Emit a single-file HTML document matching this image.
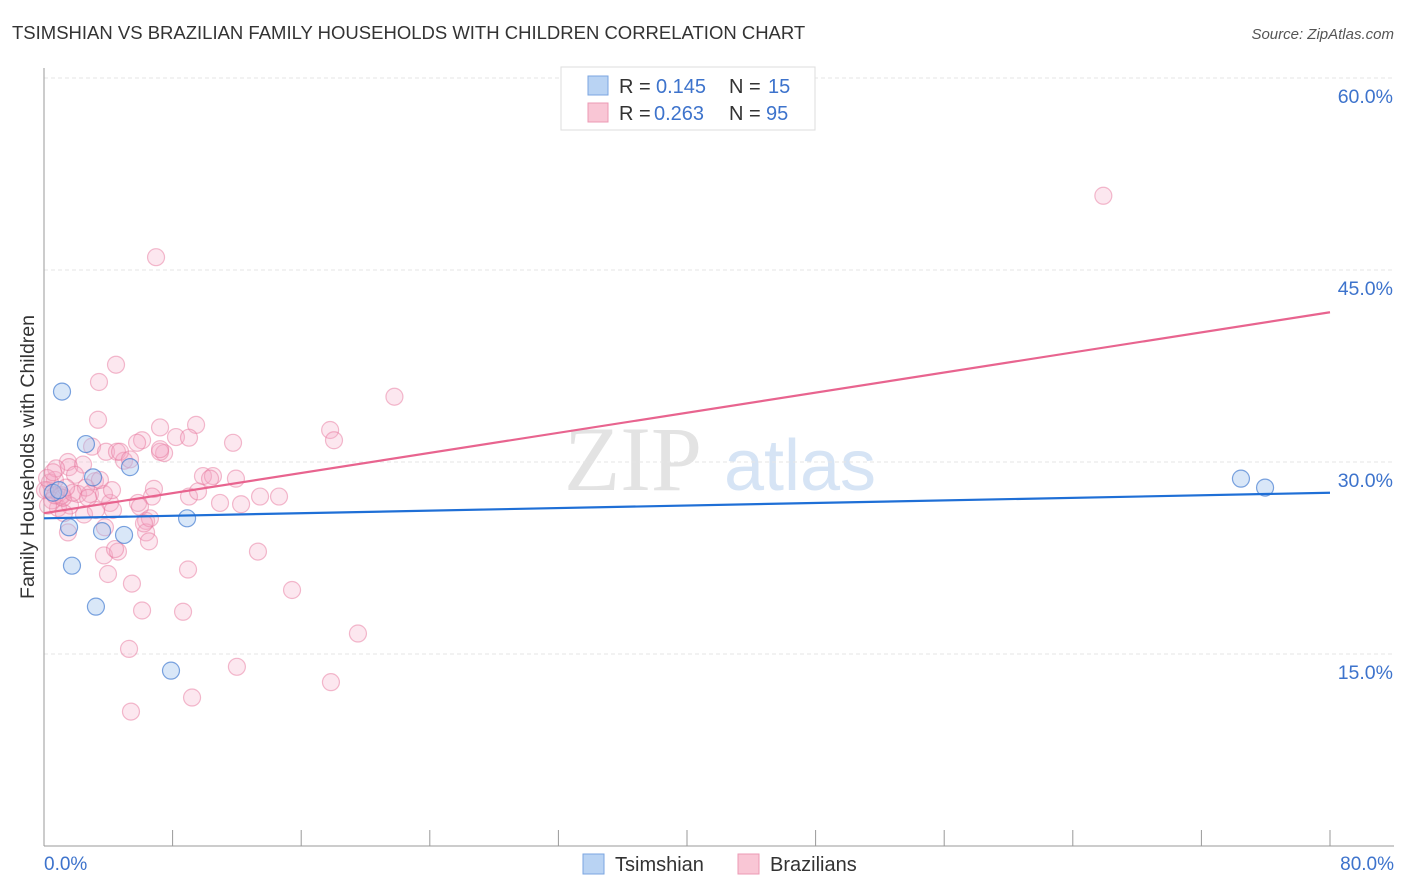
<!DOCTYPE html>
<html><head><meta charset="utf-8"><style>
body{margin:0;background:#fff;font-family:"Liberation Sans",sans-serif;}
svg{display:block}
</style></head><body>
<svg id="chart" width="1406" height="892" xmlns="http://www.w3.org/2000/svg">
<text x="12" y="39" font-size="18.5" fill="#333" font-family="Liberation Sans, sans-serif">TSIMSHIAN VS BRAZILIAN FAMILY HOUSEHOLDS WITH CHILDREN CORRELATION CHART</text>
<text x="1394" y="39" font-size="15" fill="#555" text-anchor="end" font-style="italic">Source: ZipAtlas.com</text>
<g>
<text x="633" y="490" font-size="92" fill="#e3e3e3" text-anchor="middle" font-family="Liberation Serif, serif">ZIP</text>
<text x="800" y="490" font-size="72" fill="#d6e4f5" text-anchor="middle">atlas</text>
</g>
<g id="grid"></g>
<g id="axes"></g>
<g id="marks"></g>
<text transform="translate(34,457) rotate(-90)" font-size="19.5" fill="#333" text-anchor="middle">Family Households with Children</text>
<g>
<rect x="561" y="67" width="254" height="63" fill="#fff" stroke="#ddd"/>
<rect x="588" y="76" width="20" height="19" fill="#b9d3f3" stroke="#7ba6e0"/>
<rect x="588" y="103" width="20" height="19" fill="#f9c6d5" stroke="#ec9ab4"/>
<text x="619" y="93" font-size="20" fill="#333">R =</text>
<text x="656" y="93" font-size="20" fill="#3d73cc">0.145</text>
<text x="729" y="93" font-size="20" fill="#333">N =</text>
<text x="768" y="93" font-size="20" fill="#3d73cc">15</text>
<text x="619" y="120" font-size="20" fill="#333">R =</text>
<text x="654" y="120" font-size="20" fill="#3d73cc">0.263</text>
<text x="729" y="120" font-size="20" fill="#333">N =</text>
<text x="766" y="120" font-size="20" fill="#3d73cc">95</text>
</g>
<g>
<rect x="583" y="854" width="21" height="20" fill="#b9d3f3" stroke="#7ba6e0"/>
<text x="615" y="871" font-size="20" fill="#333">Tsimshian</text>
<rect x="738" y="854" width="21" height="20" fill="#f9c6d5" stroke="#ec9ab4"/>
<text x="770" y="871" font-size="20" fill="#333">Brazilians</text>
</g>
</svg>
<script>
const yTicks=[15,30,45,60];
const yTickLabels=["15.0%","30.0%","45.0%","60.0%"];
const xEndLabels=["0.0%","80.0%"];
const tsimX=[1.12,2.61,5.35,3.05,1.56,3.61,4.98,8.90,1.74,3.23,7.90,74.46,75.96,0.56,0.93];
const tsimY=[35.5,31.4,29.6,28.8,24.9,24.6,24.3,25.6,21.9,18.7,13.7,28.7,28.0,27.6,27.8];
const brazX=[65.9,6.97,4.48,3.42,21.8,3.36,9.46,17.8,8.21,11.76,6.10,7.22,18.04,9.02,2.99,3.86,4.54,7.47,7.22,1.49,4.98,1.56,2.43,9.89,10.51,10.33,11.94,6.84,3.17,6.72,9.02,13.44,14.62,5.85,4.11,4.29,10.95,12.26,0.68,0.25,1.0,2.12,2.86,3.73,0.87,1.62,2.49,3.79,6.35,1.49,6.35,6.53,3.73,4.60,4.42,13.31,5.47,3.98,8.96,6.10,8.65,15.43,19.53,12.0,5.29,9.21,5.41,17.85,0.37,0.06,0.5,1.12,1.93,2.61,3.48,1.24,3.23,5.97,1.18,0.75,4.73,5.35,5.79,9.58,0.25,0.68,1.80,1.37,4.23,2.74,0.19,0.56,7.22,6.59,6.22];
const brazY=[50.8,46.0,37.6,36.25,35.1,33.3,32.9,32.5,31.95,31.5,31.7,32.7,31.7,31.9,31.2,30.8,30.8,30.7,30.8,30.0,30.1,29.6,29.8,28.9,28.9,28.7,28.7,27.9,28.5,27.3,27.3,27.3,27.3,26.8,26.8,26.25,26.8,26.7,28.6,27.8,27.3,27.5,27.5,27.5,26.4,26.6,25.9,24.9,25.4,24.5,24.5,23.8,22.7,23.0,23.2,23.0,20.5,21.25,21.6,18.4,18.3,20.0,16.6,14.0,15.4,11.6,10.5,12.8,28.4,27.8,27.0,27.4,29.0,28.0,28.6,26.0,26.25,26.5,27.2,29.5,30.8,30.2,31.5,27.7,26.6,27.4,27.6,28.0,27.8,27.2,28.75,29.2,31.0,25.6,25.2];
const tsimTrend=[25.6,27.6];
const brazTrend=[26.0,41.7];
const xDomain=[0,80];
const NS="http://www.w3.org/2000/svg";
const X=v=>44+(v-xDomain[0])/(xDomain[1]-xDomain[0])*1286;
const Y=v=>846-v*12.8;
function mk(tag,attrs,parent){const e=document.createElementNS(NS,tag);for(const k in attrs)e.setAttribute(k,attrs[k]);parent.appendChild(e);return e;}
const grid=document.getElementById('grid'),axes=document.getElementById('axes'),marks=document.getElementById('marks');
yTicks.forEach((t,i)=>{
 const l=mk('line',{x1:44,x2:1394,y1:Y(t),y2:Y(t),stroke:'#e6e6e6','stroke-dasharray':'4,3'},grid);
 
 
 const tx=mk('text',{x:1393,y:Y(t)+25,'font-size':19.5,fill:'#3d73cc','text-anchor':'end'},axes);
 tx.textContent=yTickLabels[i];
 
 
});
const ya=mk('line',{x1:44,x2:44,y1:68,y2:846,stroke:'#999'},axes);


const xa=mk('line',{x1:44,x2:1394,y1:846,y2:846,stroke:'#999'},axes);


for(let v=0;v<=80;v+=8){
 const t=mk('line',{x1:X(v),x2:X(v),y1:830,y2:846,stroke:'#999'},axes);
 
 
}
[[0,'start',44],[1,'end',1394]].forEach(([i,a,x])=>{
 const t=mk('text',{x:x,y:870,'font-size':19,fill:'#3d73cc','text-anchor':a},axes);
 t.textContent=xEndLabels[i];
 
 
});
brazX.forEach((x,i)=>{
 const c=mk('circle',{cx:X(x),cy:Y(brazY[i]),r:8.5,fill:'rgba(246,170,196,0.28)',stroke:'rgba(232,120,158,0.5)','stroke-width':1.2},marks);
 
 
});
tsimX.forEach((x,i)=>{
 const c=mk('circle',{cx:X(x),cy:Y(tsimY[i]),r:8.5,fill:'rgba(160,195,238,0.4)',stroke:'rgba(70,125,210,0.7)','stroke-width':1.2},marks);
 
 
});
const bl=mk('line',{x1:X(0),y1:Y(brazTrend[0]),x2:X(80),y2:Y(brazTrend[1]),stroke:'#e8648f','stroke-width':2.2},marks);


const tl=mk('line',{x1:X(0),y1:Y(tsimTrend[0]),x2:X(80),y2:Y(tsimTrend[1]),stroke:'#1f6fd6','stroke-width':2.2},marks);


</script>
</body></html>
